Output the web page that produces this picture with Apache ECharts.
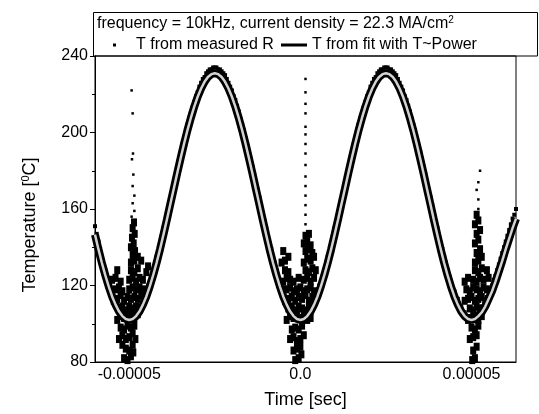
<!DOCTYPE html>
<html><head><meta charset="utf-8">
<script src="https://cdn.jsdelivr.net/npm/echarts@6/dist/echarts.min.js"></script>
<style>html,body{margin:0;padding:0;background:#fff}#c{width:539px;height:414px}</style>
</head><body><div id="c"></div>
<script>
// Time in microseconds (axis labels show seconds)
const fitTime = [-60,-59,-58,-57,-56,-55,-54,-53,-52,-51,-50,-49,-48,-47,-46,-45,-44,-43,-42,-41,-40,-39,-38,-37,-36,-35,-34,-33,-32,-31,-30,-29,-28,-27,-26,-25,-24,-23,-22,-21,-20,-19,-18,-17,-16,-15,-14,-13,-12,-11,-10,-9,-8,-7,-6,-5,-4,-3,-2,-1,0,1,2,3,4,5,6,7,8,9,10,11,12,13,14,15,16,17,18,19,20,21,22,23,24,25,26,27,28,29,30,31,32,33,34,35,36,37,38,39,40,41,42,43,44,45,46,47,48,49,50,51,52,53,54,55,56,57,58,59,60,61,62,63];
const fitTemp = [146.6,139.0,131.9,125.4,119.5,114.3,110.0,106.5,104.0,102.5,102.0,102.5,104.0,106.5,110.0,114.3,119.5,125.4,131.9,139.0,146.6,154.4,162.5,170.5,178.6,186.4,194.0,201.1,207.6,213.5,218.7,223.0,226.5,229.0,230.5,231.0,230.5,229.0,226.5,223.0,218.7,213.5,207.6,201.1,194.0,186.4,178.6,170.5,162.5,154.4,146.6,139.0,131.9,125.4,119.5,114.3,110.0,106.5,104.0,102.5,102.0,102.5,104.0,106.5,110.0,114.3,119.5,125.4,131.9,139.0,146.6,154.4,162.5,170.5,178.6,186.4,194.0,201.1,207.6,213.5,218.7,223.0,226.5,229.0,230.5,231.0,230.5,229.0,226.5,223.0,218.7,213.5,207.6,201.1,194.0,186.4,178.6,170.5,162.5,154.4,146.6,139.0,131.9,125.4,119.5,114.3,110.0,106.5,104.0,102.5,102.0,102.5,104.0,106.0,109.0,113.0,117.0,122.0,127.5,133.0,139.0,144.5,150.0,155.0];

const measuredBand = [
[-60,151],[-59.5,147],[-59,143],[-58.5,139],[-58,135],[-57.5,131],[-57,128],[-56.5,125],[-56,122],[-55.5,119],[-55,117],[-54.5,114],[-54,112],[-53,109],[-52,106],[-51,104],
[-49,105],[-48,107],[-47,109],[-46,113],[-45.5,115],[-45,117],[-44.5,120],[-44,122],[-43.5,125],[-43,128],[-42.5,132],[-42,135],[-41.5,138],[-41,142],[-40.5,146],[-40,150],[-39.5,154],[-39,157],[-38.5,161],[-38,165],[-37.5,169],[-37,173],[-36.5,177],[-36,181],[-35.5,185],[-35,189],[-34.5,193],[-34,197],[-33.5,200],[-33,204],[-32.5,207],[-32,210],[-31.5,213],[-31,216],[-30.5,219],[-30,221],[-29.5,224],[-29,226],[-28.5,228],[-28,229],[-27.5,231],[-27,232],[-26.5,233],[-26,233],[-25.5,234],[-25,234],
[-24.5,234],[-24,233],[-23.5,233],[-23,232],[-22.5,231],[-22,230],[-21.5,228],[-21,226],[-20.5,224],[-20,222],[-19.5,219],[-19,217],[-18.5,214],[-18,211],[-17.5,207],[-17,204],[-16.5,201],[-16,197],[-15.5,193],[-15,190],[-14.5,186],[-14,182],[-13.5,178],[-13,174],[-12.5,170],[-12,166],[-11.5,162],[-11,158],[-10.5,154],[-10,150],[-9.5,146],[-9,142],[-8.5,139],[-8,135],[-7.5,132],[-7,128],[-6.5,125],[-6,122],[-5.5,119],[-5,117],[-4,113],[-3,109],[-2,106],[-1,104],
[1,105],[2,107],[3,109],[4,113],[4.5,115],[5,117],[5.5,120],[6,122],[6.5,125],[7,128],[7.5,132],[8,135],[8.5,138],[9,142],[9.5,146],[10,150],[10.5,154],[11,157],[11.5,161],[12,165],[12.5,169],[13,173],[13.5,177],[14,181],[14.5,185],[15,189],[15.5,193],[16,197],[16.5,200],[17,204],[17.5,207],[18,210],[18.5,213],[19,216],[19.5,219],[20,221],[20.5,224],[21,226],[21.5,228],[22,229],[22.5,231],[23,232],[23.5,233],[24,233],[24.5,234],[25,234],
[25.5,234],[26,233],[26.5,233],[27,232],[27.5,231],[28,230],[28.5,228],[29,226],[29.5,224],[30,222],[30.5,219],[31,217],[31.5,214],[32,211],[32.5,207],[33,204],[33.5,201],[34,197],[34.5,193],[35,190],[35.5,186],[36,182],[36.5,178],[37,174],[37.5,170],[38,166],[38.5,162],[39,158],[39.5,154],[40,150],[40.5,146],[41,142],[41.5,139],[42,135],[42.5,132],[43,128],[43.5,125],[44,122],[44.5,119],[45,117],[46,113],[47,109],[48,106],[49,104],
[51,105],[52,107],[53,109],[54,112],[54.5,114],[55,116],[55.5,118],[56,120],[56.5,123],[57,125],[57.5,128],[58,131],[58.5,134],[59,137],[59.5,140],[60,143],[60.5,146],[61,149],[61.5,152],[62,155],[62.5,157],[63,160]
];

const measuredNoiseA = [
[-51.5,82],[-50.5,81],[-49.5,83],[-48.8,85],[-51,87],[-50,86],[-49,89],[-52,89],
[-53,92],[-52,94],[-51,92],[-50,93],[-49,95],[-48.2,92],[-52.5,98],[-51.5,97],[-50.5,99],[-49.5,98],[-48.5,99],
[-53.5,102],[-52.5,104],[-51.5,103],[-50.5,105],[-49.5,104],[-48.5,103],[-47.5,105],[-53,108],[-52,109],[-51,107],[-50,109],[-49,108],[-48,109],
[-54.5,112],[-53.5,113],[-52.5,115],[-51.5,112],[-50.5,114],[-49.5,113],[-48.5,114],[-47.5,113],[-46.5,115],[-54,118],[-53,119],[-52,117],[-50,118],[-49,119],[-48,118],[-47,119],[-46,118],
[-55,123],[-54,124],[-52.5,122],[-50,123],[-49,124],[-48,122],[-47,124],[-46,123],[-45,127],[-53.5,128],[-49.5,128],[-48.5,127],[-47.5,129],[-44.5,130],
[-49.5,132],[-48.5,133],[-49,136],[-48.3,138],[-49.5,140],[-48.7,142],[-49.2,145],[-48.4,147],[-49,150],[-48.6,153],[-47.5,135],[-46.5,133]
];
const measuredNoiseB = [
[-1.5,81],[-0.5,82],[0.3,84],[-1,87],[0,88],[-2,86],
[-3,92],[-2,93],[-1,91],[0,92],[1,94],[-2.5,97],[-1.5,98],[-0.5,97],[0.5,99],
[-4,102],[-3,104],[-2,103],[-1,105],[0,103],[1,104],[2,102],[3,103],[-3.5,108],[-2.5,109],[-1.5,107],[-0.5,109],[0.5,108],[1.5,107],[2.5,109],
[-4.5,112],[-3.5,113],[-2.5,114],[-1.5,112],[-0.5,114],[0.5,113],[1.5,115],[2.5,112],[3.5,114],[-4,118],[-3,119],[-2,117],[-1,118],[0,119],[1,117],[2,118],[3,119],[4,117],
[-5,122],[-4,124],[-3,123],[-2,122],[-0.5,124],[1,123],[2,124],[3,122],[4,124],[-4.5,128],[-3.5,127],[1.5,128],[2.5,127],[3.5,129],[4.5,128],
[-5.5,132],[-4.5,133],[-3.5,135],[1,132],[2,134],[3,133],[4,135],[-5,138],[1.5,138],[2.5,139],[3.5,137],
[1,142],[2,143],[3,141],[1.5,146],[2.5,147]
];
const measuredNoiseC = [
[50.2,81],[51,82],[50.5,86],[51.5,88],
[49.5,92],[50.5,93],[51.5,94],[50,98],[51,97],[52,99],
[49,102],[50,103],[51,104],[52,102],[53,104],[49.5,108],[50.5,107],[51.5,109],[52.5,108],
[48,112],[49,113],[50,114],[51,112],[52,113],[53,114],[54,112],[48.5,118],[49.5,117],[50.5,119],[51.5,118],[52.5,117],[53.5,119],[54.5,118],
[48,122],[49,124],[50.5,123],[51.5,122],[52.5,124],[53.5,123],[55,124],[51,128],[52,127],[53,129],[54.5,128],
[51,132],[52,133],[53,135],[51.5,137],[52.5,139],[51,142],[52,144],[51.5,147],[52.5,149],[51,152],[52,154],[51.5,157]
];
// isolated outliers far above the curve (small dots)
const measuredSpikes = [
[-49.3,156],[-48.5,159],[-49,163],[-48.5,167],[-49,172],[-48.8,178],[-49.2,186],[-48.9,189],[-49,210],[-49.3,222],
[1.5,228],[1.5,221],[1.5,215],[1.5,210],[1.5,203],[1.5,199],[1.5,194],[1.5,189],[1.5,183],[1.5,177],[1.5,172],[1.5,167],[1.5,162],[1.5,157],[1.5,152],
[52,160],[52,165],[51.5,170],[52,174],[52.5,180]
];

const xTickLabels = [[-50,'-0.00005'],[0,'0.0'],[50,'0.00005']];
const yTickValues = [80,120,160,200,240];

const FONT = '"Liberation Sans", Arial, sans-serif';
const labelMap = {};
xTickLabels.forEach(p => { labelMap[p[0]] = p[1]; });
const fitData = fitTime.map((t, i) => [t, fitTemp[i]]);
const noise = measuredNoiseA.concat(measuredNoiseB, measuredNoiseC);

const chart = echarts.init(document.getElementById('c'), null, {renderer: 'canvas'});
chart.setOption({
  animation: false,
  backgroundColor: '#fff',
  textStyle: {fontFamily: FONT, color: '#000'},
  title: {
    text: 'frequency = 10kHz, current density = 22.3 MA/cm{sup|2}',
    left: 97, top: 15, padding: 0,
    textStyle: {fontFamily: FONT, fontSize: 16, fontWeight: 'normal', color: '#000',
      rich: {sup: {fontSize: 10, verticalAlign: 'top', fontFamily: FONT, color: '#000', padding: [0,0,8,0]}}}
  },
  graphic: [{type: 'rect', shape: {x: 93.5, y: 12.5, width: 444, height: 43.5}, style: {fill: 'none', stroke: '#000', lineWidth: 1}, z: 10}],
  legend: [
    {data: ['T from measured R'], left: 113, top: 37, padding: 0, icon: 'rect', itemWidth: 3, itemHeight: 3,
     textStyle: {fontFamily: FONT, fontSize: 16, color: '#000', padding: [0,0,0,15]}},
    {data: ['T from fit with T~Power'], left: 281, top: 37, padding: 0, icon: 'rect', itemWidth: 26, itemHeight: 3,
     textStyle: {fontFamily: FONT, fontSize: 16, color: '#000'}}
  ],
  grid: {left: 95, right: 23, top: 56, bottom: 49, show: true, borderColor: '#000', borderWidth: 1, backgroundColor: 'transparent'},
  xAxis: {
    type: 'value', min: -60, max: 63, interval: 10,
    name: 'Time [sec]', nameLocation: 'middle', nameGap: 29,
    nameTextStyle: {fontFamily: FONT, fontSize: 18, color: '#000'},
    axisLine: {onZero: false, lineStyle: {color: '#000', width: 1}},
    axisTick: {show: false},
    splitLine: {show: false},
    axisLabel: {margin: 5, fontFamily: FONT, fontSize: 16, color: '#000',
      formatter: v => { const k = Math.round(v); return labelMap[k] !== undefined ? labelMap[k] : ''; }}
  },
  yAxis: {
    type: 'value', min: yTickValues[0], max: yTickValues[yTickValues.length - 1], interval: 40,
    name: 'Temperature [{sup|0}C]', nameLocation: 'middle', nameGap: 55,
    nameTextStyle: {fontFamily: FONT, fontSize: 18, color: '#000', padding: [0, 32, 0, 0],
      rich: {sup: {fontSize: 11, verticalAlign: 'top', fontFamily: FONT, color: '#000', padding: [0,0,9,0]}}},
    axisLine: {show: true, onZero: false, lineStyle: {color: '#000', width: 1}},
    axisTick: {show: true, inside: false, length: 5, lineStyle: {color: '#000'}},
    minorTick: {show: true, splitNumber: 2, length: 3, lineStyle: {color: '#000'}},
    splitLine: {show: false},
    axisLabel: {margin: 7, fontFamily: FONT, fontSize: 16, color: '#000'}
  },
  series: [
    {name: 'T from measured R', type: 'scatter', data: measuredBand, symbol: 'rect', symbolSize: 4,
     itemStyle: {color: '#000', opacity: 1}, z: 2},
    {name: 'T from measured R', type: 'scatter', data: noise, symbol: 'rect', symbolSize: [6, 8],
     itemStyle: {color: '#000', opacity: 1}, z: 2},
    {name: 'T from measured R', type: 'scatter', data: measuredSpikes, symbol: 'rect', symbolSize: 2.5,
     itemStyle: {color: '#000', opacity: 1}, z: 2},
    {name: 'T from fit with T~Power', type: 'line', data: fitData, showSymbol: false, symbol: 'none',
     lineStyle: {color: '#000', width: 8}, itemStyle: {color: '#000'}, z: 3},
    {name: 'fit core', type: 'line', data: fitData, showSymbol: false, symbol: 'none',
     lineStyle: {color: '#d2d2d2', width: 2.5}, itemStyle: {color: '#d2d2d2'}, z: 4}
  ]
});
</script>
</body></html>
